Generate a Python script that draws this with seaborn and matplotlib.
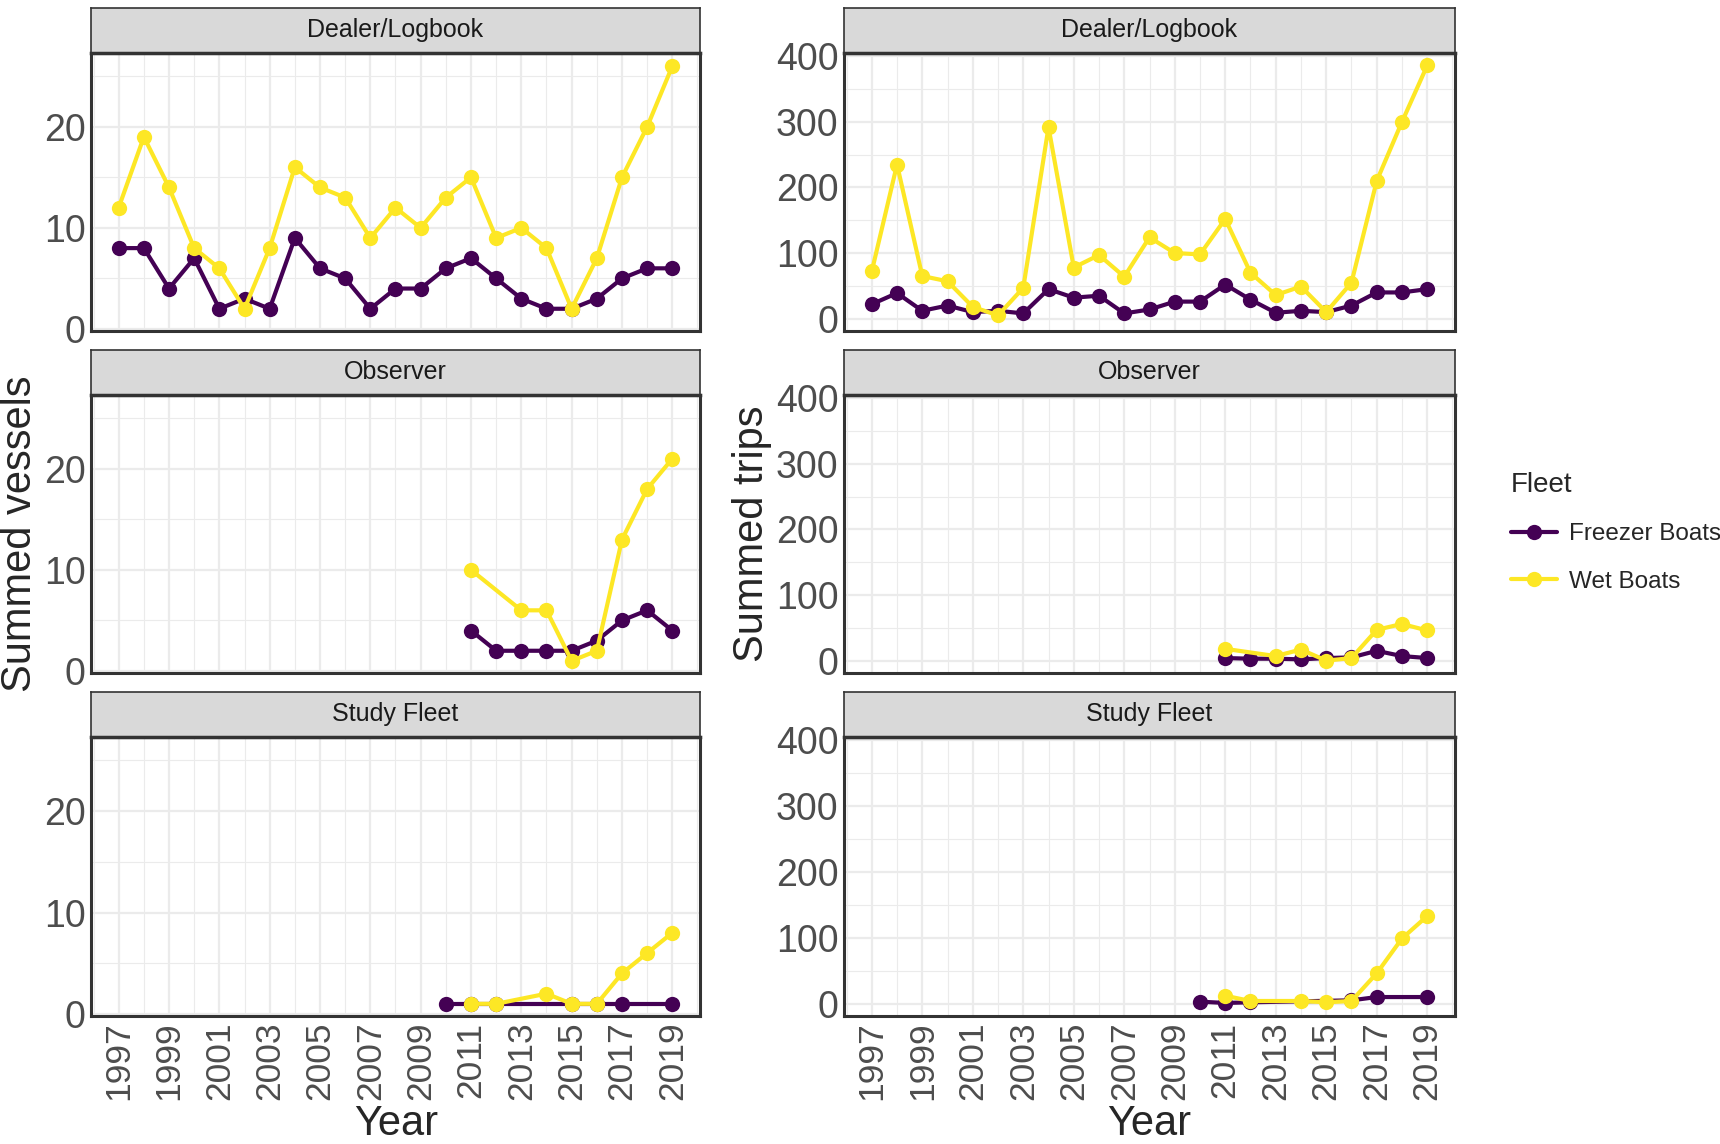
import matplotlib as mpl
mpl.use("Agg")
import matplotlib.pyplot as plt
import matplotlib.ticker as ticker
from matplotlib.lines import Line2D
import pandas as pd
import seaborn as sns

# ---- data ----
years_all = list(range(1997, 2020))

dl_vessels_freezer = [8, 8, 4, 7, 2, 3, 2, 9, 6, 5, 2, 4, 4, 6, 7, 5, 3, 2, 2, 3, 5, 6, 6]
dl_vessels_wet = [12, 19, 14, 8, 6, 2, 8, 16, 14, 13, 9, 12, 10, 13, 15, 9, 10, 8, 2, 7, 15, 20, 26]
dl_trips_freezer = [22, 39, 12, 20, 10, 12, 8, 45, 32, 35, 8, 14, 26, 26, 52, 29, 9, 12, 10, 20, 40, 40, 45]
dl_trips_wet = [72, 235, 65, 57, 18, 5, 47, 292, 78, 97, 64, 124, 100, 98, 152, 70, 36, 49, 10, 55, 210, 300, 386]

obs_years_freezer = [2011, 2012, 2013, 2014, 2015, 2016, 2017, 2018, 2019]
obs_years_wet = [2011, 2013, 2014, 2015, 2016, 2017, 2018, 2019]
obs_vessels_freezer = [4, 2, 2, 2, 2, 3, 5, 6, 4]
obs_vessels_wet = [10, 6, 6, 1, 2, 13, 18, 21]
obs_trips_freezer = [4, 3, 3, 2, 4, 5, 15, 7, 4]
obs_trips_wet = [18, 7, 17, 0, 4, 47, 56, 46]

sf_years_freezer_v = [2010, 2011, 2012, 2015, 2016, 2017, 2019]
sf_vessels_freezer = [1, 1, 1, 1, 1, 1, 1]
sf_years_wet = [2011, 2012, 2014, 2015, 2016, 2017, 2018, 2019]
sf_vessels_wet = [1, 1, 2, 1, 1, 4, 6, 8]
sf_years_freezer_t = [2010, 2011, 2012, 2016, 2017, 2019]
sf_trips_freezer = [3, 1, 2, 5, 10, 10]
sf_trips_wet = [12, 4, 4, 2, 4, 46, 99, 133]

sources = ["Dealer/Logbook", "Observer", "Study Fleet"]
fleets = ["Freezer Boats", "Wet Boats"]
palette = {"Freezer Boats": "#440154", "Wet Boats": "#FDE725"}


def frame(years_f, vals_f, years_w, vals_w):
    a = pd.DataFrame({"Year": years_f, "value": vals_f, "Fleet": "Freezer Boats"})
    b = pd.DataFrame({"Year": years_w, "value": vals_w, "Fleet": "Wet Boats"})
    return pd.concat([a, b], ignore_index=True)


vessels = [
    frame(years_all, dl_vessels_freezer, years_all, dl_vessels_wet),
    frame(obs_years_freezer, obs_vessels_freezer, obs_years_wet, obs_vessels_wet),
    frame(sf_years_freezer_v, sf_vessels_freezer, sf_years_wet, sf_vessels_wet),
]
trips = [
    frame(years_all, dl_trips_freezer, years_all, dl_trips_wet),
    frame(obs_years_freezer, obs_trips_freezer, obs_years_wet, obs_trips_wet),
    frame(sf_years_freezer_t, sf_trips_freezer, sf_years_wet, sf_trips_wet),
]

# ---- figure ----
sns.set_style("white")
plt.rcParams["font.family"] = ["Liberation Sans", "DejaVu Sans"]

W, H = 1720, 1144
fig = plt.figure(figsize=(W / 100, H / 100), dpi=100)

col_x = [(91, 700), (844, 1455)]
rows = [(8, 53, 331), (350, 395, 673), (692, 737, 1016)]  # strip top, panel top, panel bottom
border = "#333333"
msize = 11
lw = 3.0


def fx(px):
    return px / W


def fy(py):
    return 1 - py / H


def style_panel(ax, ylim, ymaj, ymin, show_x):
    ax.set_xlim(1995.9, 2020.1)
    ax.set_ylim(*ylim)
    ax.xaxis.set_major_locator(ticker.MultipleLocator(2, offset=1))
    ax.xaxis.set_minor_locator(ticker.MultipleLocator(2))
    ax.yaxis.set_major_locator(ticker.MultipleLocator(ymaj))
    ax.yaxis.set_minor_locator(ticker.MultipleLocator(ymin))
    ax.grid(which="major", color="#EBEBEB", linewidth=1.6)
    ax.grid(which="minor", color="#EBEBEB", linewidth=0.8)
    ax.set_axisbelow(True)
    for s in ax.spines.values():
        s.set_color(border)
        s.set_linewidth(2.2)
    ax.tick_params(which="major", direction="in", length=6, width=2, color=border,
                   labelsize=27, labelcolor="#4D4D4D", pad=4)
    ax.tick_params(which="minor", length=0)
    ax.tick_params(axis="x", labelrotation=90, labelbottom=show_x, labelsize=25.5)
    ax.set_xlabel("")
    ax.set_ylabel("")
    leg = ax.get_legend()
    if leg is not None:
        leg.remove()


for c, (data_list, ylim, ymaj, ymin) in enumerate([
        (vessels, (-0.2, 27.3), 10, 5),
        (trips, (-18.8, 405), 100, 50)]):
    x0, x1 = col_x[c]
    for r, (st, pt, pb) in enumerate(rows):
        ax = fig.add_axes([fx(x0), fy(pb), fx(x1 - x0), (pb - pt) / H])
        sns.lineplot(data=data_list[r], x="Year", y="value", hue="Fleet",
                     hue_order=fleets, palette=palette, marker="o",
                     markersize=msize, markeredgewidth=0, linewidth=lw,
                     estimator=None, sort=True, ax=ax)
        style_panel(ax, ylim, ymaj, ymin, show_x=(r == 2))

        sax = fig.add_axes([fx(x0), fy(pt), fx(x1 - x0), (pt - st) / H])
        sax.set_facecolor("#D9D9D9")
        sax.set_xticks([])
        sax.set_yticks([])
        for s in sax.spines.values():
            s.set_color(border)
            s.set_linewidth(1.2)
        sax.spines["bottom"].set_linewidth(2.5)
        sax.text(0.5, 0.5, sources[r], ha="center", va="center", fontsize=18,
                 color="#1A1A1A", transform=sax.transAxes)

# axis titles
fig.text(fx(20), fy(534), "Summed vessels", rotation=90, ha="center", va="center", fontsize=30)
fig.text(fx(752), fy(534), "Summed trips", rotation=90, ha="center", va="center", fontsize=30)
fig.text(fx(396), fy(1124), "Year", ha="center", va="center", fontsize=30)
fig.text(fx(1149), fy(1124), "Year", ha="center", va="center", fontsize=30)

# legend
handles = [Line2D([0], [0], color=palette[f], marker="o", markersize=msize,
                  markeredgewidth=0, linewidth=lw) for f in fleets]
leg = fig.legend(handles, fleets, title="Fleet", loc="upper left",
                 bbox_to_anchor=(fx(1501), fy(462)), frameon=False,
                 fontsize=17.5, title_fontsize=20, handlelength=1.9,
                 labelspacing=1.05, handletextpad=0.5, borderaxespad=0)
leg._legend_box.align = "left"

fig.savefig("out.png", dpi=100)
